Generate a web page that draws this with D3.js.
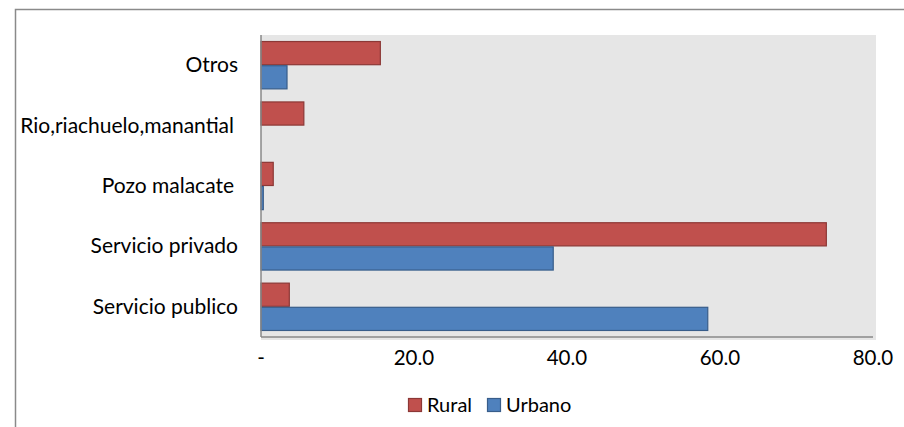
<!DOCTYPE html>
<html>
<head>
<meta charset="utf-8">
<script src="https://cdn.jsdelivr.net/npm/d3@7"></script>
<style>
  body { margin: 0; background: #fff; }
  text { font-family: Lato, "Open Sans", sans-serif; fill: #000; }
</style>
</head>
<body>
<div id="chart"></div>
<script>
// data
const categories = ['Otros', 'Rio,riachuelo,manantial', 'Pozo malacate', 'Servicio privado', 'Servicio publico']
const series = ['Rural', 'Urbano']
const rural = [15.6, 5.6, 1.6, 73.9, 3.7]
const urbano = [3.4, 0, 0.3, 38.2, 58.4]
const ticks = [0, 20, 40, 60, 80]
const colors = { Rural: '#c0504d', Urbano: '#4f81bd' }
const strokes = { Rural: '#8c3836', Urbano: '#385d8a' }

const W = 904, H = 427
const margin = { top: 35, right: 31, bottom: 103, left: 261 }

const svg = d3.select('#chart').append('svg')
  .attr('width', W)
  .attr('height', H)

// outer chart frame
svg.append('rect')
  .attr('x', 15.5).attr('y', 9.5)
  .attr('width', W).attr('height', H)
  .attr('fill', 'none')
  .attr('stroke', '#8a8a8a')
  .attr('stroke-width', 1.5)

const x = d3.scaleLinear()
  .domain([0, 80])
  .range([margin.left, W - margin.right])

const y = d3.scaleBand()
  .domain(categories)
  .range([margin.top, H - margin.bottom + 13])
  .paddingInner(0.2)
  .paddingOuter(0.1)

const ySub = d3.scaleBand()
  .domain(series)
  .range([0, y.bandwidth()])

const plotBottom = y.range()[1]

// plot background
svg.append('rect')
  .attr('x', margin.left)
  .attr('y', margin.top)
  .attr('width', x(80) - margin.left + 3)
  .attr('height', plotBottom - margin.top + 3)
  .attr('fill', '#e6e6e6')

const rows = categories.map((c, i) => ({ cat: c, Rural: rural[i], Urbano: urbano[i] }))

const g = svg.append('g')
g.selectAll('g.cat')
  .data(rows)
  .enter().append('g')
  .attr('transform', d => 'translate(0,' + y(d.cat) + ')')
  .selectAll('rect')
  .data(d => series.map(s => ({ s: s, v: d[s] })).filter(e => e.v > 0))
  .enter().append('rect')
  .attr('x', x(0))
  .attr('y', d => ySub(d.s) + 0.5)
  .attr('width', d => x(d.v) - x(0))
  .attr('height', ySub.bandwidth() - 1)
  .attr('fill', d => colors[d.s])
  .attr('stroke', d => strokes[d.s])
  .attr('stroke-width', 1.2)

// axes lines
svg.append('line')
  .attr('x1', margin.left).attr('x2', margin.left)
  .attr('y1', margin.top).attr('y2', plotBottom)
  .attr('stroke', '#888').attr('stroke-width', 1.5)
svg.append('line')
  .attr('x1', margin.left).attr('x2', x(80))
  .attr('y1', plotBottom).attr('y2', plotBottom)
  .attr('stroke', '#888').attr('stroke-width', 1.5)

// category labels
svg.append('g').selectAll('text')
  .data(categories)
  .enter().append('text')
  .attr('x', d => (d === 'Pozo malacate' || d.startsWith('Rio')) ? 234 : 238)
  .attr('y', d => y(d) + y.bandwidth() / 2 + 7)
  .attr('text-anchor', 'end')
  .style('font-size', '21px')
  .text(d => d)

// x tick labels
svg.append('g').selectAll('text')
  .data(ticks)
  .enter().append('text')
  .attr('x', d => x(d))
  .attr('y', 365)
  .attr('text-anchor', 'middle')
  .style('font-size', '20.5px')
  .text(d => d === 0 ? '-' : d3.format('.1f')(d))

// legend
const legend = svg.append('g')
const legendX = [408, 487]
series.forEach((s, i) => {
  legend.append('rect')
    .attr('x', legendX[i] + 0.5).attr('y', 398.5)
    .attr('width', 13).attr('height', 13)
    .attr('fill', colors[s])
    .attr('stroke', strokes[s])
    .attr('stroke-width', 1.2)
  legend.append('text')
    .attr('x', legendX[i] + 19)
    .attr('y', 412)
    .style('font-size', '20px')
    .text(s)
})
</script>
</body>
</html>
